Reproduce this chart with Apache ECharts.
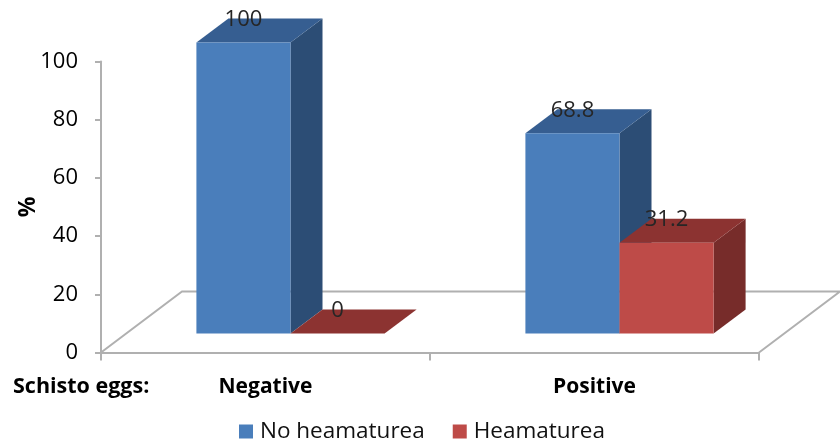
<!DOCTYPE html>
<html>
<head>
<meta charset="utf-8">
<style>
  html, body { margin: 0; padding: 0; background: #fff; }
  #chart { width: 840px; height: 444px; }
</style>
<script src="https://cdn.jsdelivr.net/npm/echarts@6/dist/echarts.min.js"></script>
</head>
<body>
<div id="chart"></div>
<script>
var categories = ['Negative', 'Positive'];
var noHeamaturea = [100, 68.8];
var heamaturea = [0, 31.2];
var yTicks = [0, 20, 40, 60, 80, 100];

var FONT = '"Open Sans", "Noto Sans", sans-serif';
var GREY = '#b0b0b0';

// depth of the floor and of a bar, in pixels
var floorDx = 81, floorDy = -61;
var barDx = 32, barDy = -24;
// front of the bars sits part way back on the floor
var frontDx = 25, frontDy = -19;
var barRatio = 0.286;

var chart = echarts.init(document.getElementById('chart'));

function renderFloor(params, api) {
  var band = api.size([1, 0])[0];
  var first = api.coord([0, 0]);
  var last = api.coord([categories.length - 1, 0]);
  var x0 = first[0] - band / 2, x1 = last[0] + band / 2, y = first[1];
  return {
    type: 'polyline',
    shape: { points: [[x0, y], [x0 + floorDx, y + floorDy], [x1 + floorDx, y + floorDy], [x1, y]] },
    style: { fill: null, stroke: GREY, lineWidth: 2 }
  };
}

// slot: -1 bar left of the centre, 0 bar right of it
function makeBar(slot, front, top, side) {
  return function (params, api) {
    var band = api.size([1, 0])[0];
    var w = band * barRatio;
    var base = api.coord([api.value(0), 0]);
    var head = api.coord([api.value(0), api.value(1)]);
    var x0 = base[0] + frontDx + slot * w, x1 = x0 + w;
    var yb = base[1] + frontDy, yt = head[1] + frontDy;
    var children = [
      { type: 'polygon', shape: { points: [[x1, yb], [x1 + barDx, yb + barDy], [x1 + barDx, yt + barDy], [x1, yt]] }, style: { fill: side } },
      { type: 'polygon', shape: { points: [[x0, yt], [x0 + barDx, yt + barDy], [x1 + barDx, yt + barDy], [x1, yt]] }, style: { fill: top } },
      { type: 'rect', shape: { x: x0, y: yt, width: w, height: yb - yt }, style: { fill: front } },
      {
        type: 'text',
        style: {
          x: (x0 + x1) / 2, y: yt + barDy + 1,
          text: String(api.value(1)), fill: '#262626',
          font: '22px ' + FONT, textAlign: 'center', textVerticalAlign: 'middle'
        }
      }
    ];
    return { type: 'group', children: children };
  };
}

function seriesData(values) {
  return values.map(function (v, i) { return [i, v]; });
}

var option = {
  animation: false,
  backgroundColor: '#fff',
  grid: { left: 101, right: 81, top: 61.5, bottom: 91.5, outerBoundsMode: 'none' },
  legend: {
    data: ['No heamaturea', 'Heamaturea'],
    left: 239, top: 420,
    icon: 'rect', itemWidth: 14, itemHeight: 14, itemGap: 28,
    padding: 0,
    textStyle: { fontFamily: FONT, fontSize: 22.5, color: '#111', padding: [0, 0, 0, 2] }
  },
  xAxis: {
    type: 'category',
    data: categories,
    axisLine: { lineStyle: { color: GREY, width: 2 } },
    axisTick: { show: true, alignWithLabel: false, length: 8, lineStyle: { color: GREY, width: 2 } },
    axisLabel: { margin: 24, color: '#000', fontFamily: FONT, fontSize: 21, fontWeight: 'bold' }
  },
  yAxis: {
    type: 'value',
    min: yTicks[0],
    max: yTicks[yTicks.length - 1],
    interval: 20,
    name: '%',
    nameLocation: 'middle',
    nameRotate: 90,
    nameGap: 61,
    nameMoveOverlap: false,
    nameTextStyle: { color: '#000', fontFamily: FONT, fontSize: 23, fontWeight: 'bold' },
    splitLine: { show: false },
    axisLine: { show: true, lineStyle: { color: GREY, width: 2 } },
    axisTick: { show: true, length: 6, lineStyle: { color: GREY, width: 2 } },
    axisLabel: { margin: 23, color: '#000', fontFamily: FONT, fontSize: 22, padding: [7, 0, 0, 0] }
  },
  graphic: [{
    type: 'text', left: 13, top: 376,
    style: { text: 'Schisto eggs:', fill: '#000', font: 'bold 21.5px ' + FONT }
  }],
  series: [
    { name: 'floor', type: 'custom', z: 1, silent: true, renderItem: renderFloor, data: [[0, 0]] },
    {
      name: 'No heamaturea', type: 'custom', z: 2,
      itemStyle: { color: '#4a7ebb' },
      renderItem: makeBar(-1, '#4a7ebb', '#365e91', '#2c4d75'),
      data: seriesData(noHeamaturea)
    },
    {
      name: 'Heamaturea', type: 'custom', z: 3,
      itemStyle: { color: '#be4b48' },
      renderItem: makeBar(0, '#be4b48', '#8c3331', '#772c2a'),
      data: seriesData(heamaturea)
    }
  ]
};
chart.setOption(option);
</script>
</body>
</html>
